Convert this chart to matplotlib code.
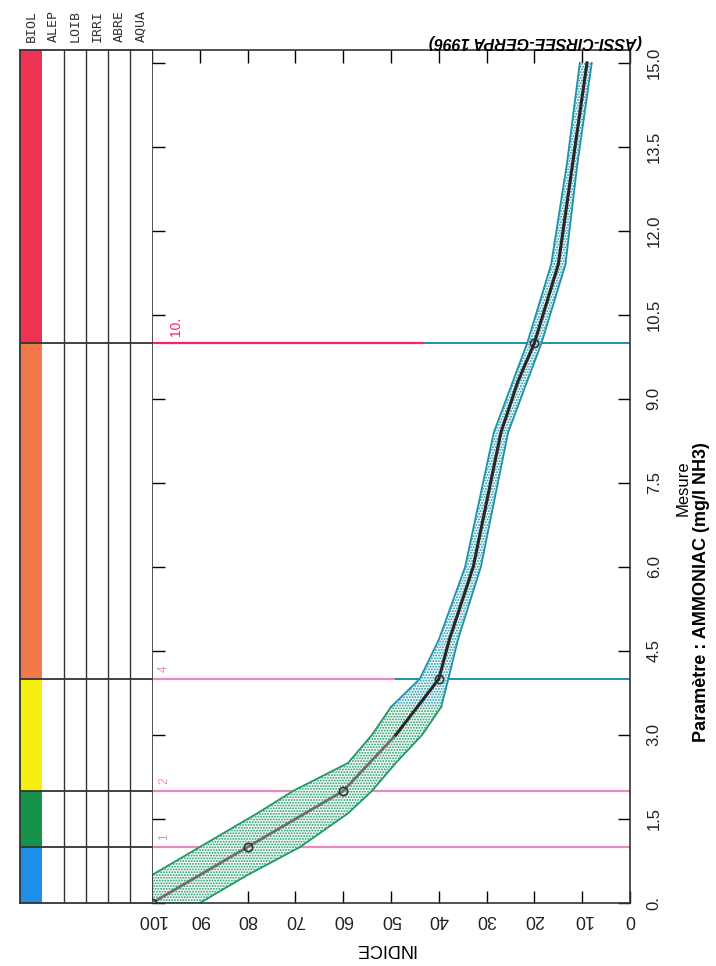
import matplotlib.pyplot as plt
import numpy as np

# classes de qualite (seuils en mg/l NH3)
seuils = [1, 2, 4, 10]
seuils_txt = ['1', '2', '4', '10.']
classes_bas = [0, 1, 2, 4, 10]
classes_couleurs = ['#1e8fe6', '#17924a', '#f6ee10', '#f27a4a', '#ee3352']
usages = ['BIOL', 'ALEP', 'LOIB', 'IRRI', 'ABRE', 'AQUA']

# points de la courbe d'indice
pts_mesure = [0, 1, 2, 4, 10]
pts_indice = [100, 80, 60, 40, 20]
courbe_mesure = [0, 1, 2, 3, 4, 4.7, 6, 8.4, 9.3, 10, 11.4, 13.2, 15]
courbe_indice = [100, 80, 60, 49, 40, 37.8, 32.8, 27, 23.5, 20, 15, 12, 9]

# enveloppe autour de la courbe
env_mesure = np.array([0, 0.5, 1, 1.6, 2, 2.5, 3, 3.5, 4, 4.7, 6, 8.4, 10, 11.4, 13.2, 15])
env_haut = np.array([100, 100, 90, 78, 70.5, 59, 54, 50, 44, 40, 34.5, 28.5, 21.5, 16.5, 13.2, 10.5])
env_bas = np.array([90, 80, 69, 59, 54, 49, 43.5, 39.5, 38, 36, 31.2, 25.5, 18.5, 13.5, 11, 8])

# indice ou le trait du seuil passe du rose au bleu (0 = rose partout)
bascule = [0, 0, 49, 43]

W, H = 716, 966
ymax = 15.23
rose = '#e58cbf'
rouge = '#ff1f6e'
bleu = '#1c93a8'
vert = '#1f9a66'

plt.rcParams['font.family'] = ['Liberation Sans', 'DejaVu Sans']
plt.rcParams['hatch.linewidth'] = 0.9

fig = plt.figure(figsize=(W / 100, H / 100), dpi=100)
ax = fig.add_axes([152 / W, 1 - 903 / H, (630 - 152) / W, (903 - 50) / H])
tab = fig.add_axes([20 / W, 1 - 903 / H, (152 - 20) / W, (903 - 50) / H], sharey=ax)

# tableau des usages a gauche
hauteurs = np.diff(classes_bas + [ymax])
tab.bar(0.5, hauteurs, bottom=classes_bas, width=1, color=classes_couleurs, linewidth=0)
for i in range(2, 6):
    tab.axvline(i, color='#333333', lw=1)
for s in seuils:
    tab.axhline(s, color='#333333', lw=1.3)
for i, u in enumerate(usages):
    tab.annotate(u, (i + 0.5, ymax), xytext=(0, 6), textcoords='offset points',
                 rotation=90, ha='center', va='bottom', fontsize=9.5,
                 family='DejaVu Sans Mono', color='#333333', annotation_clip=False)
tab.set_xlim(0, 6)
tab.tick_params(left=False, bottom=False, right=False, top=False,
                labelleft=False, labelbottom=False)
for sp in tab.spines.values():
    sp.set_color('#333333')
    sp.set_linewidth(1.3)
tab.spines['right'].set_visible(False)

# traits des seuils
for s, b, txt in zip(seuils, bascule, seuils_txt):
    c = rouge if s == 10 else rose
    if b == 0:
        ax.plot([100, 0], [s, s], color=c, lw=1.6, zorder=1)
    else:
        ax.plot([100, b], [s, s], color=c, lw=1.6, zorder=1)
        ax.plot([b, 0], [s, s], color=bleu, lw=1.4, zorder=1)
    ax.text(95 if s == 10 else 97.5, s + 0.12, txt, rotation=90, color=c,
            fontsize=10 if s == 10 else 8.5, ha='center', va='bottom')

# enveloppe pointillee (vert en bas, bleu en haut)
bas = env_mesure <= 3.5
haut = env_mesure >= 3.5
ax.fill_betweenx(env_mesure, env_bas, env_haut, where=bas, facecolor='#f2faf6',
                 edgecolor=vert, hatch='......', lw=0, zorder=2)
ax.fill_betweenx(env_mesure, env_bas, env_haut, where=haut, facecolor='#eef8fa',
                 edgecolor=bleu, hatch='......', lw=0, zorder=2)
for m, c in [(bas, vert), (haut, bleu)]:
    ax.plot(env_bas[m], env_mesure[m], color=c, lw=1.3, zorder=2)
    ax.plot(env_haut[m], env_mesure[m], color=c, lw=1.3, zorder=2)

# courbe
ax.plot(courbe_indice[:4], courbe_mesure[:4], color='#6e6e6e', lw=2, zorder=3)
ax.plot(courbe_indice[3:], courbe_mesure[3:], color='#262626', lw=2.2, zorder=3)
ax.plot(pts_indice, pts_mesure, 'o', ms=6, mfc='none', mec='#333333', mew=1.2, zorder=4)

ax.set_xlim(100, 0)
ax.set_ylim(0, ymax)
xt = np.arange(0, 101, 10)
ax.set_xticks(xt)
ax.set_xticklabels([str(v) for v in xt], rotation=180, fontsize=13, color='#222222')
yt = np.arange(0, 15.01, 1.5)
ax.set_yticks(yt)
ax.set_yticklabels(['0.'] + ['%.1f' % v for v in yt[1:]], rotation=90, va='center',
                   fontsize=12, color='#222222')
ax.tick_params(direction='in', length=9, width=1, top=True, bottom=True, left=True, right=True,
               labelleft=False, labelright=True, labelbottom=True, pad=6)
ax.tick_params(axis='y', pad=12)
for sp in ax.spines.values():
    sp.set_color('#333333')
    sp.set_linewidth(1.2)

fig.text(385 / W, 1 - 948 / H, 'INDICE', rotation=180, ha='center', va='center', fontsize=13)
fig.text(683 / W, 1 - 488 / H, 'Mesure', rotation=90, ha='center', va='center', fontsize=12)
fig.text(701 / W, 1 - 592 / H, 'Paramètre : AMMONIAC (mg/l NH3)', rotation=90,
         ha='center', va='center', fontsize=13, fontweight='bold')
fig.text(535 / W, 1 - 41 / H, '(ASSI-CIRSEE-GERPA 1996)', rotation=180, ha='center',
         va='center', fontsize=11.5, fontweight='bold', fontstyle='italic')

fig.savefig('out.png', dpi=100, facecolor='white')
